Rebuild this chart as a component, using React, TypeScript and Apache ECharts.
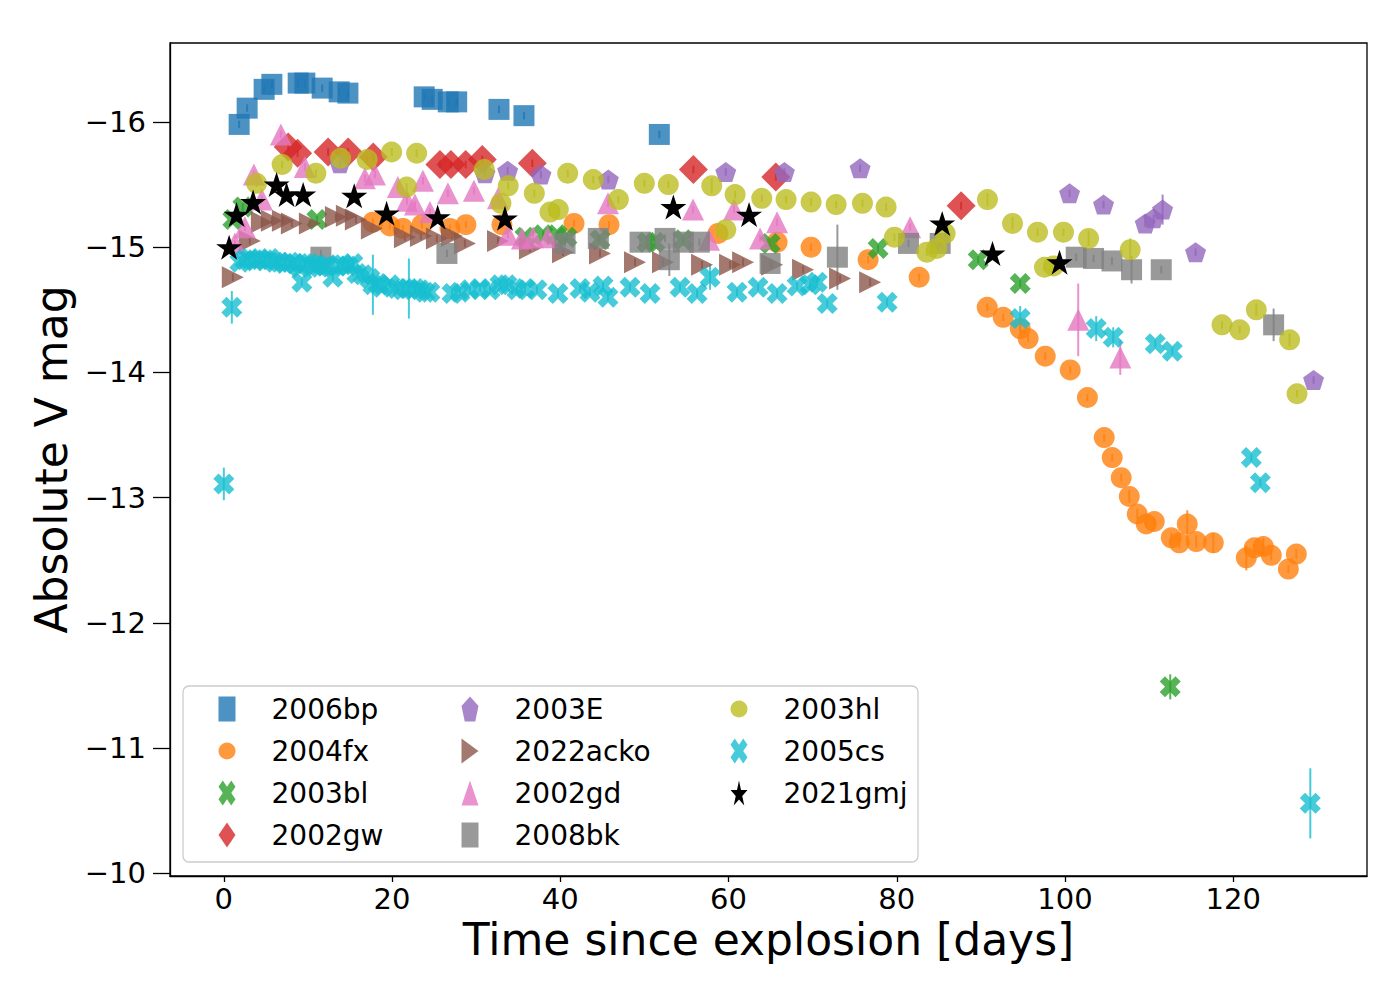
import React, { useEffect, useRef } from 'react';
import * as echarts from 'echarts';

// [day, absolute V mag, error]
const sn2006bp: number[][] = [
  [1.82, -15.98, 0.03], [2.77, -16.11, 0.03], [4.79, -16.26, 0.03], [5.71, -16.30, 0.03],
  [8.84, -16.31, 0.03], [9.63, -16.31, 0.03], [11.69, -16.27, 0.03], [13.71, -16.24, 0.03],
  [14.75, -16.23, 0.03], [23.82, -16.20, 0.03], [24.77, -16.18, 0.03], [26.68, -16.16, 0.03],
  [27.68, -16.16, 0.03], [32.71, -16.10, 0.03], [35.68, -16.05, 0.03], [51.77, -15.90, 0.03],
];
const sn2004fx: number[][] = [
  [17.72, -15.20, 0.03], [19.74, -15.17, 0.03], [21.29, -15.15, 0.03], [23.55, -15.18, 0.03],
  [26.88, -15.15, 0.03], [28.78, -15.18, 0.03], [33.06, -15.18, 0.03], [41.63, -15.19, 0.03],
  [45.79, -15.18, 0.03], [58.75, -15.11, 0.03], [65.77, -15.04, 0.03], [69.81, -15.00, 0.03],
  [76.59, -14.90, 0.03], [82.66, -14.76, 0.03], [90.75, -14.52, 0.03], [92.65, -14.44, 0.03],
  [94.67, -14.35, 0.03], [95.62, -14.27, 0.03], [97.65, -14.13, 0.03], [100.62, -14.02, 0.03],
  [102.66, -13.80, 0.03], [104.66, -13.48, 0.03], [105.61, -13.32, 0.03], [106.68, -13.16, 0.03],
  [107.64, -13.01, 0.05], [108.59, -12.87, 0.04], [109.66, -12.79, 0.03], [110.61, -12.81, 0.03],
  [112.63, -12.68, 0.04], [113.58, -12.64, 0.04], [114.53, -12.79, 0.11], [115.60, -12.65, 0.05],
  [117.63, -12.64, 0.08], [121.55, -12.52, 0.10], [122.50, -12.60, 0.03], [123.57, -12.61, 0.07],
  [124.52, -12.54, 0.04], [126.55, -12.43, 0.03], [127.50, -12.55, 0.04],
];
const sn2003bl: number[][] = [
  [1.07, -15.22, 0.03], [2.26, -15.32, 0.03], [11.06, -15.22, 0.03], [35.80, -15.08, 0.03],
  [37.94, -15.10, 0.03], [39.61, -15.10, 0.03], [40.79, -15.08, 0.03], [44.72, -15.06, 0.03],
  [50.31, -15.04, 0.03], [51.26, -15.04, 0.03], [54.59, -15.06, 0.03], [64.94, -15.03, 0.03],
  [77.78, -14.99, 0.03], [89.68, -14.90, 0.03], [94.67, -14.71, 0.03], [112.51, -11.49, 0.10],
];
const sn2002gw: number[][] = [
  [7.65, -15.80, 0.03], [8.77, -15.75, 0.03], [12.40, -15.76, 0.03], [14.78, -15.76, 0.03],
  [17.76, -15.72, 0.03], [25.69, -15.66, 0.03], [27.00, -15.66, 0.03], [28.75, -15.66, 0.03],
  [30.72, -15.70, 0.03], [36.67, -15.67, 0.03], [55.82, -15.62, 0.03], [65.62, -15.56, 0.03],
  [87.65, -15.33, 0.03],
];
const sn2003E: number[][] = [
  [13.80, -15.67, 0.03], [31.04, -15.59, 0.03], [33.74, -15.61, 0.03], [37.70, -15.58, 0.03],
  [45.71, -15.54, 0.03], [59.67, -15.60, 0.03], [66.64, -15.60, 0.03], [75.64, -15.63, 0.03],
  [100.54, -15.43, 0.03], [104.58, -15.34, 0.03], [109.54, -15.19, 0.03], [110.53, -15.23, 0.03],
  [111.60, -15.30, 0.12], [115.52, -14.96, 0.03], [129.55, -13.94, 0.03],
];
const sn2022acko: number[][] = [
  [1.07, -14.76, 0.03], [3.09, -15.05, 0.03], [4.52, -15.20, 0.03], [5.71, -15.21, 0.03],
  [7.02, -15.21, 0.03], [8.09, -15.19, 0.03], [10.23, -15.19, 0.03], [13.32, -15.24, 0.03],
  [14.63, -15.25, 0.03], [15.70, -15.22, 0.03], [17.60, -15.15, 0.03], [21.53, -15.08, 0.03],
  [23.43, -15.09, 0.03], [25.33, -15.07, 0.03], [27.12, -15.09, 0.03], [28.66, -15.03, 0.03],
  [32.59, -15.05, 0.03], [36.39, -14.99, 0.03], [40.32, -14.96, 0.03], [44.72, -14.95, 0.03],
  [48.88, -14.88, 0.03], [52.21, -14.88, 0.03], [56.85, -14.86, 0.03], [60.18, -14.86, 0.03],
  [61.73, -14.88, 0.03], [65.18, -14.86, 0.03], [68.86, -14.82, 0.03], [73.26, -14.75, 0.03],
  [76.83, -14.72, 0.03],
];
const sn2002gd: number[][] = [
  [1.31, -15.03, 0.03], [2.50, -15.16, 0.03], [3.57, -15.58, 0.03], [4.52, -15.38, 0.03],
  [6.78, -15.90, 0.03], [9.63, -15.64, 0.03], [16.77, -15.55, 0.03], [17.96, -15.58, 0.03],
  [20.69, -15.48, 0.03], [21.77, -15.37, 0.03], [22.72, -15.34, 0.03], [23.67, -15.53, 0.03],
  [24.50, -15.28, 0.03], [26.64, -15.43, 0.03], [29.73, -15.45, 0.03], [32.59, -15.39, 0.03],
  [33.78, -15.10, 0.03], [35.44, -15.07, 0.03], [36.75, -15.08, 0.03], [38.53, -15.08, 0.03],
  [45.67, -15.35, 0.03], [55.78, -15.30, 0.03], [57.68, -15.06, 0.03], [60.66, -15.30, 0.03],
  [63.75, -15.07, 0.03], [65.77, -15.20, 0.03], [81.59, -15.16, 0.03], [101.57, -14.42, 0.29],
  [106.57, -14.12, 0.14],
];
const sn2008bk: number[][] = [
  [11.54, -14.92, 0.06], [26.52, -14.95, 0.03], [40.56, -15.03, 0.03], [44.52, -15.07, 0.03],
  [49.48, -15.04, 0.03], [52.45, -15.07, 0.03], [52.96, -14.90, 0.13], [54.63, -15.04, 0.03],
  [56.53, -15.04, 0.03], [64.94, -14.87, 0.03], [72.94, -14.92, 0.26], [81.39, -15.03, 0.03],
  [85.16, -15.03, 0.03], [101.33, -14.92, 0.03], [103.39, -14.91, 0.03], [105.58, -14.89, 0.03],
  [107.91, -14.82, 0.11], [111.44, -14.82, 0.03], [124.80, -14.38, 0.13],
];
const sn2003hl: number[][] = [
  [3.89, -15.51, 0.03], [6.93, -15.66, 0.03], [10.94, -15.59, 0.03], [13.88, -15.71, 0.03],
  [17.04, -15.70, 0.03], [19.95, -15.76, 0.03], [21.73, -15.48, 0.03], [22.92, -15.75, 0.03],
  [30.96, -15.62, 0.03], [32.94, -15.35, 0.03], [33.81, -15.49, 0.03], [36.91, -15.43, 0.03],
  [38.77, -15.28, 0.03], [39.76, -15.30, 0.03], [40.88, -15.59, 0.03], [43.92, -15.54, 0.03],
  [46.90, -15.38, 0.03], [49.99, -15.51, 0.03], [52.84, -15.50, 0.03], [58.00, -15.49, 0.06],
  [59.67, -15.14, 0.03], [60.78, -15.42, 0.03], [63.95, -15.39, 0.03], [66.84, -15.38, 0.03],
  [69.81, -15.36, 0.03], [72.79, -15.34, 0.03], [75.92, -15.35, 0.03], [78.73, -15.32, 0.03],
  [79.72, -15.08, 0.03], [83.57, -14.96, 0.03], [84.76, -14.99, 0.03], [85.75, -15.11, 0.03],
  [90.78, -15.38, 0.05], [93.76, -15.19, 0.05], [96.73, -15.12, 0.03], [97.56, -14.84, 0.03],
  [98.63, -14.85, 0.03], [99.82, -15.12, 0.03], [102.80, -15.07, 0.06], [107.75, -14.98, 0.09],
  [118.66, -14.38, 0.03], [120.76, -14.34, 0.03], [122.74, -14.50, 0.05], [126.70, -14.26, 0.05],
  [127.58, -13.83, 0.03],
];
const sn2005cs: number[][] = [
  [0.00, -13.11, 0.13], [0.95, -14.52, 0.13], [1.90, -14.88, 0.03], [2.50, -14.90, 0.03],
  [3.09, -14.91, 0.03], [3.69, -14.89, 0.03], [4.28, -14.90, 0.03], [4.88, -14.90, 0.03],
  [5.47, -14.91, 0.03], [6.07, -14.88, 0.03], [6.66, -14.88, 0.03], [7.26, -14.87, 0.03],
  [7.85, -14.88, 0.03], [8.44, -14.87, 0.03], [9.04, -14.84, 0.03], [9.28, -14.72, 0.03],
  [9.63, -14.87, 0.03], [10.23, -14.87, 0.03], [10.82, -14.85, 0.03], [11.42, -14.84, 0.03],
  [12.01, -14.85, 0.03], [12.37, -14.86, 0.03], [12.96, -14.76, 0.03], [13.56, -14.85, 0.03],
  [14.15, -14.86, 0.03], [14.75, -14.85, 0.03], [15.34, -14.87, 0.03], [15.82, -14.79, 0.03],
  [16.53, -14.78, 0.03], [17.36, -14.75, 0.03], [17.72, -14.70, 0.24], [18.32, -14.71, 0.03],
  [18.79, -14.68, 0.03], [19.74, -14.70, 0.03], [20.58, -14.67, 0.03], [21.29, -14.66, 0.03],
  [22.00, -14.67, 0.24], [22.72, -14.67, 0.03], [23.31, -14.66, 0.03], [23.91, -14.64, 0.03],
  [24.50, -14.64, 0.03], [27.12, -14.63, 0.03], [28.07, -14.64, 0.03], [29.26, -14.66, 0.03],
  [30.45, -14.67, 0.03], [31.64, -14.66, 0.03], [32.83, -14.70, 0.03], [33.66, -14.70, 0.03],
  [34.85, -14.66, 0.03], [35.80, -14.67, 0.03], [37.23, -14.66, 0.03], [39.72, -14.63, 0.03],
  [42.34, -14.67, 0.03], [43.53, -14.64, 0.03], [45.08, -14.69, 0.03], [45.67, -14.60, 0.03],
  [48.29, -14.68, 0.03], [50.67, -14.63, 0.03], [54.23, -14.68, 0.03], [56.26, -14.63, 0.03],
  [57.80, -14.76, 0.10], [61.01, -14.64, 0.03], [63.51, -14.68, 0.03], [65.77, -14.63, 0.03],
  [68.15, -14.69, 0.03], [69.70, -14.70, 0.03], [70.54, -14.72, 0.03], [71.73, -14.55, 0.03],
  [78.85, -14.56, 0.03], [94.67, -14.43, 0.10], [103.71, -14.35, 0.10], [105.73, -14.28, 0.08],
  [110.73, -14.23, 0.03], [112.75, -14.17, 0.03], [122.15, -13.32, 0.03], [123.22, -13.12, 0.03],
  [129.16, -10.56, 0.28],
];
const sn2021gmj: number[][] = [
  [0.63, -15.00, 0.03], [1.51, -15.26, 0.03], [3.48, -15.36, 0.03], [6.27, -15.50, 0.03],
  [7.46, -15.42, 0.03], [9.43, -15.42, 0.03], [15.50, -15.41, 0.03], [19.35, -15.27, 0.03],
  [25.42, -15.24, 0.03], [33.42, -15.23, 0.03], [53.44, -15.32, 0.03], [62.44, -15.26, 0.03],
  [85.40, -15.19, 0.03], [91.38, -14.95, 0.03], [99.35, -14.88, 0.03],
];

const X_TICKS = [0, 20, 40, 60, 80, 100, 120];
const Y_TICKS = [-16, -15, -14, -13, -12, -11, -10];
const LEGEND_COLUMNS = [
  ['2006bp', '2004fx', '2003bl', '2002gw'],
  ['2003E', '2022acko', '2002gd', '2008bk'],
  ['2003hl', '2005cs', '2021gmj'],
];

const FONT = 'DejaVu Sans';
const SYM_X = 'path://M7.5,0L10,2.5L7.5,5L10,7.5L7.5,10L5,7.5L2.5,10L0,7.5L2.5,5L0,2.5L2.5,0L5,2.5Z';
const SYM_PENT = 'path://M5,0L10,3.63L8.09,9.51L1.91,9.51L0,3.63Z';
const SYM_RIGHT = 'path://M0,0L10,5L0,10Z';
const SYM_STAR =
  'path://M5,0L6.12,3.45L9.76,3.45L6.82,5.59L7.94,9.05L5,6.91L2.06,9.05L3.18,5.59L0.24,3.45L3.88,3.45Z';

type SetDef = {
  name: string;
  data: number[][];
  color: string;
  symbol: string;
  size: number[];
  opacity: number;
};

const SETS: SetDef[] = [
  { name: '2006bp', data: sn2006bp, color: '#1f77b4', symbol: 'rect', size: [21, 21], opacity: 0.8 },
  { name: '2004fx', data: sn2004fx, color: '#ff7f0e', symbol: 'circle', size: [21, 21], opacity: 0.8 },
  { name: '2003bl', data: sn2003bl, color: '#2ca02c', symbol: SYM_X, size: [21, 21], opacity: 0.8 },
  { name: '2002gw', data: sn2002gw, color: '#d62728', symbol: 'diamond', size: [29, 29], opacity: 0.8 },
  { name: '2003E', data: sn2003E, color: '#9467bd', symbol: SYM_PENT, size: [21, 20], opacity: 0.8 },
  { name: '2022acko', data: sn2022acko, color: '#8c564b', symbol: SYM_RIGHT, size: [22, 22], opacity: 0.8 },
  { name: '2002gd', data: sn2002gd, color: '#e377c2', symbol: 'triangle', size: [22, 22], opacity: 0.8 },
  { name: '2008bk', data: sn2008bk, color: '#7f7f7f', symbol: 'rect', size: [21, 21], opacity: 0.8 },
  { name: '2003hl', data: sn2003hl, color: '#bcbd22', symbol: 'circle', size: [21, 21], opacity: 0.8 },
  { name: '2005cs', data: sn2005cs, color: '#17becf', symbol: SYM_X, size: [21, 21], opacity: 0.8 },
  { name: '2021gmj', data: sn2021gmj, color: '#000000', symbol: SYM_STAR, size: [26, 25], opacity: 1 },
];

const fmtMinus = (v: number) => String(v).replace('-', '\u2212');

function buildOption() {
  const series: any[] = [];
  SETS.forEach((s) => {
    series.push({
      type: 'custom',
      name: s.name + ' err',
      data: s.data,
      encode: { x: 0, y: 1 },
      clip: true,
      silent: true,
      renderItem: (params: any, api: any) => {
        const x = api.value(0);
        const y = api.value(1);
        const e = api.value(2);
        const p1 = api.coord([x, y - e]);
        const p2 = api.coord([x, y + e]);
        return {
          type: 'line',
          shape: { x1: p1[0], y1: p1[1], x2: p2[0], y2: p2[1] },
          style: { stroke: s.color, lineWidth: 2, opacity: s.opacity },
        };
      },
    });
    series.push({
      type: 'scatter',
      name: s.name,
      data: s.data.map((d) => [d[0], d[1]]),
      symbol: s.symbol,
      symbolSize: s.size,
      itemStyle: { color: s.color, opacity: s.opacity },
      emphasis: { disabled: true },
    });
  });

  const legendLeft = [213.5, 456.5, 725.5];
  const legends = LEGEND_COLUMNS.map((col, i) => ({
    data: col,
    orient: 'vertical',
    left: legendLeft[i],
    top: 690,
    itemWidth: 17,
    itemHeight: 25,
    itemGap: 14,
    symbolKeepAspect: false,
    selectedMode: false,
    z: 10,
    textStyle: {
      fontFamily: FONT,
      fontSize: 28,
      lineHeight: 28,
      color: '#000',
      padding: [0, 0, 0, 31],
    },
  }));

  return {
    animation: false,
    backgroundColor: '#ffffff',
    textStyle: { fontFamily: FONT },
    grid: {
      left: 170,
      right: 33,
      top: 43,
      bottom: 124,
      show: true,
      borderColor: '#000',
      borderWidth: 1.3,
      backgroundColor: 'transparent',
    },
    xAxis: {
      type: 'value',
      min: -6.4,
      max: 135.9,
      name: 'Time since explosion [days]',
      nameLocation: 'middle',
      nameGap: 40,
      nameTextStyle: { fontFamily: FONT, fontSize: 44, color: '#000' },
      axisLine: { show: true, onZero: false, lineStyle: { color: '#000', width: 1.3 } },
      axisTick: { show: true, length: 6, customValues: X_TICKS, lineStyle: { color: '#000', width: 1.3 } },
      axisLabel: {
        customValues: X_TICKS,
        fontFamily: FONT,
        fontSize: 29,
        color: '#000',
        margin: 8,
        formatter: fmtMinus,
      },
      splitLine: { show: false },
    },
    yAxis: {
      type: 'value',
      inverse: true,
      min: -16.63,
      max: -9.98,
      name: 'Absolute V mag',
      nameLocation: 'middle',
      nameGap: 91,
      nameTextStyle: { fontFamily: FONT, fontSize: 44, color: '#000' },
      axisLine: { show: true, onZero: false, lineStyle: { color: '#000', width: 1.3 } },
      axisTick: { show: true, length: 17, customValues: Y_TICKS, lineStyle: { color: '#000', width: 1.3 } },
      axisLabel: {
        customValues: Y_TICKS,
        fontFamily: FONT,
        fontSize: 29,
        color: '#000',
        margin: 24,
        formatter: fmtMinus,
      },
      splitLine: { show: false },
    },
    legend: legends,
    graphic: [
      {
        type: 'rect',
        z: 9,
        shape: { x: 183, y: 686, width: 735, height: 176, r: 6 },
        style: { fill: 'rgba(255,255,255,0.8)', stroke: '#cccccc', lineWidth: 1.3 },
        silent: true,
      },
    ],
    series,
  };
}

export default function App() {
  const ref = useRef<HTMLDivElement>(null);
  useEffect(() => {
    if (!ref.current) return;
    const chart = echarts.init(ref.current, undefined, { renderer: 'svg' });
    chart.setOption(buildOption() as any);
    return () => {
      chart.dispose();
    };
  }, []);
  return (
    <div
      ref={ref}
      style={{ position: 'absolute', left: 0, top: 0, width: 1400, height: 1000, background: '#fff' }}
    />
  );
}
